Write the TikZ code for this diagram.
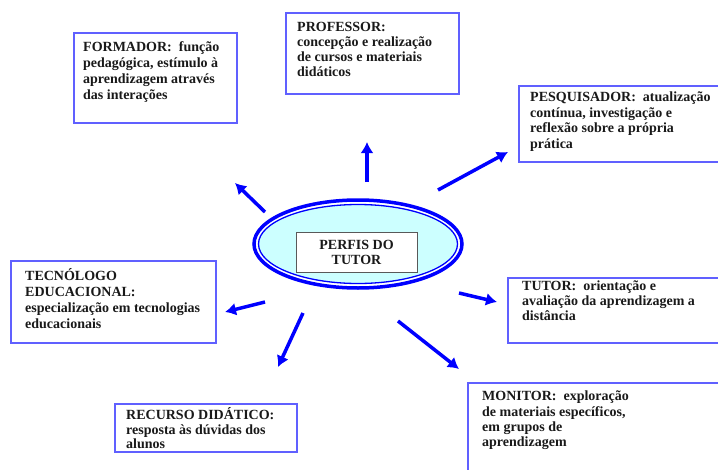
\documentclass[tikz,border=0pt]{standalone}
\usepackage{fontspec}
\setmainfont{Liberation Serif}
\newfontfamily\tnrfont{Liberation Serif}
\usetikzlibrary{shapes.geometric,arrows.meta}
\definecolor{boxblue}{RGB}{96,96,255}
\definecolor{arrblue}{RGB}{0,0,255}
\definecolor{lightcyan}{RGB}{204,255,255}
\definecolor{txtcol}{RGB}{25,25,25}
\newcommand\firstln{\rule{0pt}{13.5pt}}
\begin{document}
\begin{tikzpicture}[x=1pt,y=-1pt,
  profbox/.style={draw=boxblue,line width=1.5pt,fill=white,rectangle,inner sep=0pt,anchor=north west},
  proftext/.style={anchor=north west,inner sep=0pt,align=left,text=txtcol,font=\tnrfont\fontsize{14}{#1}\selectfont\bfseries},
  proftext/.default=15.5,
  bigarrow/.style={draw=arrblue,line width=3.5pt,-{Latex[length=11pt,width=13pt]}}]
\useasboundingbox (0,0) rectangle (718,469);
\clip (0,0) rectangle (718,469);
\fill[white] (0,0) rectangle (718,469);

% boxes
\node[profbox,minimum width=163pt,minimum height=90pt] (formbox) at (73,32) {};
\node[profbox,minimum width=173pt,minimum height=81pt] (profbox) at (285,12) {};
\node[profbox,minimum width=220pt,minimum height=76pt] (pesqbox) at (518,85) {};
\node[profbox,minimum width=205pt,minimum height=82pt] (tecnbox) at (10,260) {};
\node[profbox,minimum width=230pt,minimum height=65pt] (tutorbox) at (507,277) {};
\node[profbox,minimum width=182pt,minimum height=48pt] (recurbox) at (114,403) {};
\node[profbox,minimum width=260pt,minimum height=100pt] (monitbox) at (467,382) {};

% texts
\node[proftext=16] (formtxt) at (83,37.5) {\firstln FORMADOR:\ \ função\\pedagógica, estímulo à\\aprendizagem através\\das interações};
\node[proftext=15.2] (proftxt) at (297,17.5) {\firstln PROFESSOR:\\concepção e realização\\de cursos e materiais\\didáticos};
\node[proftext=15.8] (pesqtxt) at (530,87.5) {\firstln PESQUISADOR:\ \ atualização\\contínua, investigação e\\reflexão sobre a própria\\prática};
\node[proftext=16] (tecntxt) at (25,266.5) {\firstln TECNÓLOGO\\EDUCACIONAL:\\especialização em tecnologias\\educacionais};
\node[proftext=15] (tutortxt) at (522,276.5) {\firstln TUTOR:\ \ orientação e\\avaliação da aprendizagem a\\distância};
\node[proftext=14.5] (recurtxt) at (126,405.8) {\firstln RECURSO DIDÁTICO:\\resposta às dúvidas dos\\alunos};
\node[proftext=15.3] (monittxt) at (482,387.2) {\firstln MONITOR:\ \ exploração\\de materiais específicos,\\em grupos de\\aprendizagem};

% central ellipse
\node[ellipse,draw=arrblue,line width=3.5pt,fill=white,minimum width=208pt,minimum height=88pt,inner sep=0pt] (perfis) at (358,244) {};
\fill[lightcyan,draw=arrblue,line width=1.3pt] (perfis.center) ellipse [x radius=99.5, y radius=39.5];
\node[draw=gray!70!black,fill=white,line width=0.8pt,minimum width=121pt,minimum height=40pt,inner sep=0pt,align=center,text=txtcol,font=\tnrfont\fontsize{14}{15}\selectfont\bfseries] (perfistxt) at (356.5,252) {\raisebox{-1.5pt}{PERFIS DO}\\\raisebox{-1.5pt}{TUTOR}};

% arrow ends
\coordinate (fT) at (265,212); \coordinate (fH) at (235,183);
\coordinate (pT) at (367,182); \coordinate (pH) at (367,142);
\coordinate (qT) at (438,190); \coordinate (qH) at (508,152);
\coordinate (tT) at (265,302); \coordinate (tH) at (225,312);
\coordinate (rT) at (303,313); \coordinate (rH) at (278,367);
\coordinate (mT) at (398,321); \coordinate (mH) at (459,369);
\coordinate (uT) at (459,293); \coordinate (uH) at (497,302);

\draw[bigarrow] (fT) -- (fH);
\draw[bigarrow] (pT) -- (pH);
\draw[bigarrow] (qT) -- (qH);
\draw[bigarrow] (tT) -- (tH);
\draw[bigarrow] (rT) -- (rH);
\draw[bigarrow] (mT) -- (mH);
\draw[bigarrow] (uT) -- (uH);
\end{tikzpicture}
\end{document}
